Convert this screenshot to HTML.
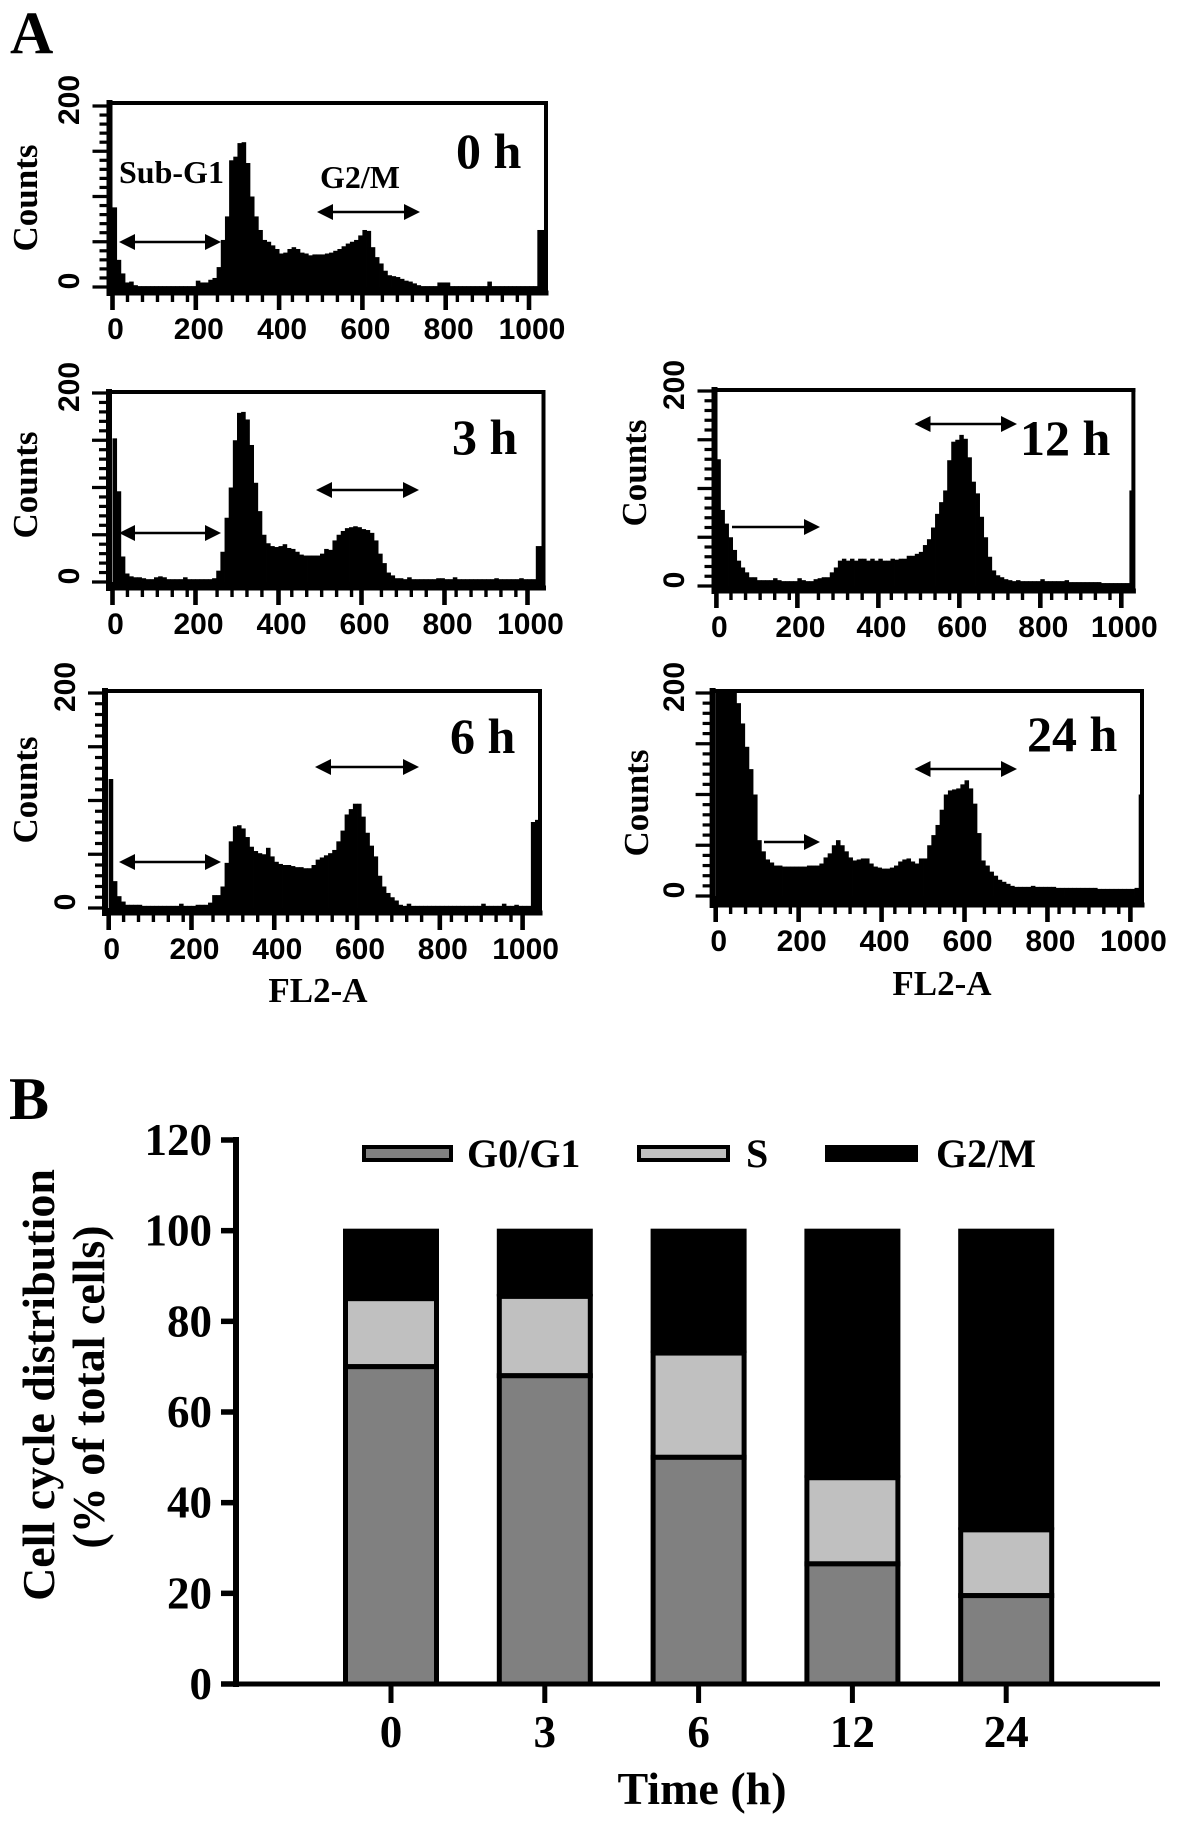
<!DOCTYPE html>
<html lang="en">
<head>
<meta charset="utf-8">
<title>Cell cycle histograms and distribution</title>
<style>
html,body{margin:0;padding:0;background:#fff;width:1181px;height:1824px;overflow:hidden}
svg{display:block}
.serif{font-family:"Liberation Serif",serif;font-weight:bold;fill:#000}
.sans{font-family:"Liberation Sans",sans-serif;font-weight:bold;fill:#000}
</style>
</head>
<body>
<svg id="fig" xmlns="http://www.w3.org/2000/svg" width="1181" height="1824" viewBox="0 0 1181 1824">
  <rect width="1181" height="1824" fill="#fff"/>
  <text class="serif" x="10" y="53" font-size="60">A</text>
  <text class="serif" x="9" y="1119" font-size="60">B</text>

  <g id="panel0">
    <text class="serif" x="456" y="168" font-size="50">0 h</text>
    <text class="serif" x="119" y="183" font-size="32">Sub-G1</text>
    <text class="serif" x="320" y="188" font-size="32">G2/M</text>
    <text class="serif" font-size="35" text-anchor="middle" transform="translate(37 198) rotate(-90)">Counts</text>
  </g>
  <g id="panel3">
    <text class="serif" x="452" y="454" font-size="50">3 h</text>
    <text class="serif" font-size="35" text-anchor="middle" transform="translate(37 485) rotate(-90)">Counts</text>
  </g>
  <g id="panel6">
    <text class="serif" x="450" y="753" font-size="50">6 h</text>
    <text class="serif" font-size="35" text-anchor="middle" transform="translate(37 790) rotate(-90)">Counts</text>
    <text class="serif" x="318" y="1002" font-size="35" text-anchor="middle">FL2-A</text>
  </g>
  <g id="panel12">
    <text class="serif" x="1020" y="455" font-size="50">12 h</text>
    <text class="serif" font-size="35" text-anchor="middle" transform="translate(646 473) rotate(-90)">Counts</text>
  </g>
  <g id="panel24">
    <text class="serif" x="1027" y="751" font-size="50">24 h</text>
    <text class="serif" font-size="35" text-anchor="middle" transform="translate(648 803) rotate(-90)">Counts</text>
    <text class="serif" x="942" y="995" font-size="35" text-anchor="middle">FL2-A</text>
  </g>

  <g id="barChart">
    <text class="serif" font-size="46" text-anchor="middle" transform="translate(54 1385) rotate(-90)">Cell cycle distribution</text>
    <text class="serif" font-size="46" text-anchor="middle" transform="translate(104 1387) rotate(-90)">(% of total cells)</text>
    <text class="serif" x="702" y="1804" font-size="46" text-anchor="middle">Time (h)</text>
    <g>
      <rect x="364" y="1147" width="87" height="13" fill="#808080" stroke="#000" stroke-width="4"/>
      <text class="serif" x="467" y="1167" font-size="40">G0/G1</text>
      <rect x="639" y="1147" width="89" height="13" fill="#c0c0c0" stroke="#000" stroke-width="4"/>
      <text class="serif" x="746" y="1167" font-size="40">S</text>
      <rect x="827" y="1147" width="89" height="13" fill="#000" stroke="#000" stroke-width="4"/>
      <text class="serif" x="936" y="1167" font-size="40">G2/M</text>
    </g>
  </g>
</svg>
<script>
// Histogram data: counts per 10-unit FL2-A bin
const histXTickValues = [0, 200, 400, 600, 800, 1000];
const histYTickValues = [0, 200];
const counts0h = [
 88,30,15,5,6,2,1,1,1,1,
 1,1,1,1,1,1,1,1,1,1,
 7,5,5,8,10,22,52,78,140,144,
 159,160,137,100,78,63,52,50,46,42,
 37,38,42,44,42,38,37,35,36,36,
 36,37,38,40,42,45,48,50,52,57,
 63,62,44,33,26,18,13,12,11,9,
 7,6,4,2,1,1,1,1,5,5,
 5,1,1,1,1,1,1,1,1,1,
 6,1,1,1,1,1,1,1,1,1,
 1,1,63,63];
const counts3h = [
 152,96,27,9,6,5,5,4,3,3,
 5,6,5,3,3,3,3,5,3,3,
 3,3,3,3,4,12,32,68,100,150,
 179,180,172,145,105,75,50,41,38,37,
 38,40,36,35,32,29,28,28,28,28,
 30,35,34,44,50,54,57,58,59,58,
 56,55,52,44,30,20,10,7,4,4,
 3,5,3,3,3,3,3,3,4,4,
 3,3,5,3,3,3,3,3,3,3,
 3,3,4,3,3,3,3,3,4,3,
 3,3,38,38];
const counts6h = [
 120,25,11,6,3,3,3,3,2,2,
 2,2,2,2,2,2,2,4,2,2,
 2,3,3,3,5,12,12,20,42,62,
 76,77,74,66,57,53,51,50,56,48,
 43,41,40,40,39,38,38,37,37,40,
 45,47,49,51,54,62,72,87,92,97,
 97,85,70,58,48,30,20,14,10,7,
 3,2,4,2,2,2,2,2,2,2,
 2,2,2,2,2,2,2,2,2,2,
 4,2,2,2,2,4,2,2,3,2,
 2,2,80,82];
const counts12h = [
 130,78,64,50,37,26,19,14,9,9,
 6,6,6,6,8,6,5,5,5,5,
 8,6,5,5,7,8,9,9,14,19,
 26,28,26,28,26,28,28,26,28,26,
 28,26,26,28,27,28,28,31,31,33,
 35,42,48,60,74,86,98,129,148,150,
 155,151,132,107,95,71,50,30,16,11,
 9,7,6,5,6,5,5,5,5,5,
 7,5,5,5,5,5,6,4,4,4,
 4,4,4,4,4,3,3,3,3,3,
 3,3,98,98];
const counts24h = [
 200,200,200,200,200,190,170,147,125,100,
 55,44,36,33,30,30,29,29,29,29,
 29,29,30,30,30,32,38,42,50,55,
 50,44,38,35,36,37,37,32,29,28,
 27,27,28,30,34,36,37,34,32,37,
 37,50,60,70,85,100,104,105,106,110,
 114,106,91,62,35,30,24,20,16,14,
 12,10,9,9,9,9,10,9,9,9,
 9,9,8,8,8,8,8,8,8,8,
 8,8,7,7,7,7,7,7,7,7,
 7,8,100,100];

// Bar chart data
const barCategories = ['0', '3', '6', '12', '24'];
const g0g1Values = [70, 68, 50, 26.5, 19.5];
const sValues = [15, 17.5, 23, 19, 14.5];
const g2mValues = [15, 14.5, 27, 54.5, 66];
const barYTickLabels = [0, 20, 40, 60, 80, 100, 120];

const NS = 'http://www.w3.org/2000/svg';
function mk(tag, attrs, parent, text) {
  const el = document.createElementNS(NS, tag);
  for (const k in attrs) el.setAttribute(k, attrs[k]);
  if (text !== undefined) el.textContent = text;
  parent.appendChild(el);
  return el;
}

function drawArrow(parent, x1, x2, y, leftHead, rightHead) {
  const line = mk('line', {x1: x1 + 6, x2: x2 - 6, y1: y, y2: y, stroke: '#000', 'stroke-width': 2.6}, parent);
  
  
  if (leftHead) {
    const h = mk('polygon', {points: x1 + ',' + y + ' ' + (x1 + 16) + ',' + (y - 8) + ' ' + (x1 + 16) + ',' + (y + 8), fill: '#000'}, parent);
    
    
  }
  if (rightHead) {
    const h = mk('polygon', {points: x2 + ',' + y + ' ' + (x2 - 16) + ',' + (y - 8) + ' ' + (x2 - 16) + ',' + (y + 8), fill: '#000'}, parent);
    
    
  }
}

function drawHistogram(groupId, counts, f) {
  const g = document.getElementById(groupId);
  const xScale = v => f.x0 + v * (f.x1 - f.x0) / 1000;
  const yScale = c => f.y0 - c * (f.y0 - f.y200) / 200;

  // bins
  counts.forEach((c, i) => {
    const left = Math.max(xScale(i * 10), f.l);
    const right = Math.min(xScale((i + 1) * 10) + 0.4, f.r);
    if (right <= left) return;
    const top = Math.max(yScale(c), f.t);
    const bin = mk('rect', {x: left, y: top, width: right - left, height: f.y0 - top, fill: '#000'}, g);
    
    
  });
  const band = mk('rect', {x: f.l, y: f.y0, width: f.r - f.l, height: f.b - f.y0, fill: '#000'}, g);
  
  

  // frame
  const sides = [
    [f.l, f.t, f.r, f.t, 4],
    [f.r, f.t, f.r, f.b, 4],
    [f.l, f.t, f.l, f.b, 6],
    [f.l, f.b, f.r, f.b, 5]
  ];
  sides.forEach(s => {
    const ln = mk('line', {x1: s[0], y1: s[1], x2: s[2], y2: s[3], stroke: '#000', 'stroke-width': s[4], 'stroke-linecap': 'square'}, g);
    
    
  });

  // x ticks
  for (let k = 1; k <= 28; k++) {
    const v = k * 36;
    if (histXTickValues.some(m => Math.abs(m - v) < 20)) continue;
    const t = mk('line', {x1: xScale(v), x2: xScale(v), y1: f.b, y2: f.b + 9, stroke: '#000', 'stroke-width': 3.4}, g);
    
    
  }
  histXTickValues.forEach(v => {
    const m = mk('line', {x1: xScale(v), x2: xScale(v), y1: f.b, y2: f.b + 17, stroke: '#000', 'stroke-width': 4.6}, g);
    
    
    const t = mk('text', {class: 'sans', x: xScale(v) + 3, y: f.b + 46, 'font-size': 30, 'text-anchor': 'middle'}, g, String(v));
    
    
  });

  // y ticks
  for (let c = 0; c <= 200; c += 10) {
    const major = c % 50 === 0;
    const t = mk('line', {x1: f.l - (major ? 17 : 10), x2: f.l, y1: yScale(c), y2: yScale(c), stroke: '#000', 'stroke-width': 3.2}, g);
    
    
  }
  histYTickValues.forEach(c => {
    const py = yScale(c) - 6;
    const t = mk('text', {class: 'sans', 'font-size': 30, 'text-anchor': 'middle', transform: 'translate(' + f.ylab + ' ' + py + ') rotate(-90)'}, g, String(c));
    
    
  });

  f.arrows.forEach(a => drawArrow(g, a[0], a[1], a[2], a[3], a[4]));
}

drawHistogram('panel0', counts0h, {x0: 112.5, x1: 529, y0: 287, y200: 106, l: 109.5, r: 546, t: 103, b: 293, ylab: 79,
  arrows: [[119, 221, 242, true, true], [317, 420, 212, true, true]]});
drawHistogram('panel3', counts3h, {x0: 112.5, x1: 527.5, y0: 582, y200: 393, l: 109, r: 543.5, t: 392, b: 588, ylab: 79,
  arrows: [[119, 221, 533, true, true], [316, 419, 490, true, true]]});
drawHistogram('panel6', counts6h, {x0: 108.7, x1: 522.6, y0: 908, y200: 693, l: 105, r: 540, t: 691, b: 913, ylab: 75,
  arrows: [[119, 221, 862, true, true], [315, 419, 767, true, true]]});
drawHistogram('panel12', counts12h, {x0: 716.4, x1: 1121.3, y0: 586, y200: 391, l: 714.5, r: 1133.4, t: 390, b: 591, ylab: 684,
  arrows: [[726, 820, 527, false, true], [914.5, 1017, 424, true, true]]});
drawHistogram('panel24', counts24h, {x0: 715.7, x1: 1130.4, y0: 896, y200: 693, l: 712.6, r: 1142, t: 691, b: 905, ylab: 684,
  arrows: [[758, 820, 842, false, true], [914.5, 1017, 769, true, true]]});

// Stacked bar chart
(function () {
  const g = document.getElementById('barChart');
  const yScale = v => 1684 - v * (1684 - 1140) / 120;
  const xCenter = i => 391 + i * 153.8;
  const barW = 96;

  const ya = mk('line', {x1: 236, x2: 236, y1: 1137, y2: 1687, stroke: '#000', 'stroke-width': 6}, g);
  
  
  const xa = mk('line', {x1: 221, x2: 1160, y1: 1684, y2: 1684, stroke: '#000', 'stroke-width': 5}, g);
  
  

  barYTickLabels.forEach(v => {
    const t = mk('line', {x1: 221, x2: 236, y1: yScale(v), y2: yScale(v), stroke: '#000', 'stroke-width': 5.5}, g);
    
    
    const l = mk('text', {class: 'serif', x: 212, y: yScale(v) + 15, 'font-size': 45, 'text-anchor': 'end'}, g, String(v));
    
    
  });

  barCategories.forEach((cat, i) => {
    const cx = xCenter(i);
    const base = g0g1Values[i];
    const mid = base + sValues[i];
    const top = mid + g2mValues[i];

    const black = mk('rect', {x: cx - barW / 2, y: yScale(top) - 2, width: barW, height: yScale(mid) - yScale(top) + 2, fill: '#000'}, g);
    
    

    const light = mk('rect', {x: cx - barW / 2 + 2.5, y: yScale(mid), width: barW - 5, height: yScale(base) - yScale(mid), fill: '#c0c0c0', stroke: '#000', 'stroke-width': 5}, g);
    
    

    const dark = mk('rect', {x: cx - barW / 2 + 2.5, y: yScale(base), width: barW - 5, height: yScale(0) - yScale(base), fill: '#808080', stroke: '#000', 'stroke-width': 5}, g);
    
    

    const tick = mk('line', {x1: cx, x2: cx, y1: 1684, y2: 1703, stroke: '#000', 'stroke-width': 5}, g);
    
    

    const lab = mk('text', {class: 'serif', x: cx, y: 1747, 'font-size': 45, 'text-anchor': 'middle'}, g, cat);
    
    
  });
})();
</script>
</body>
</html>
